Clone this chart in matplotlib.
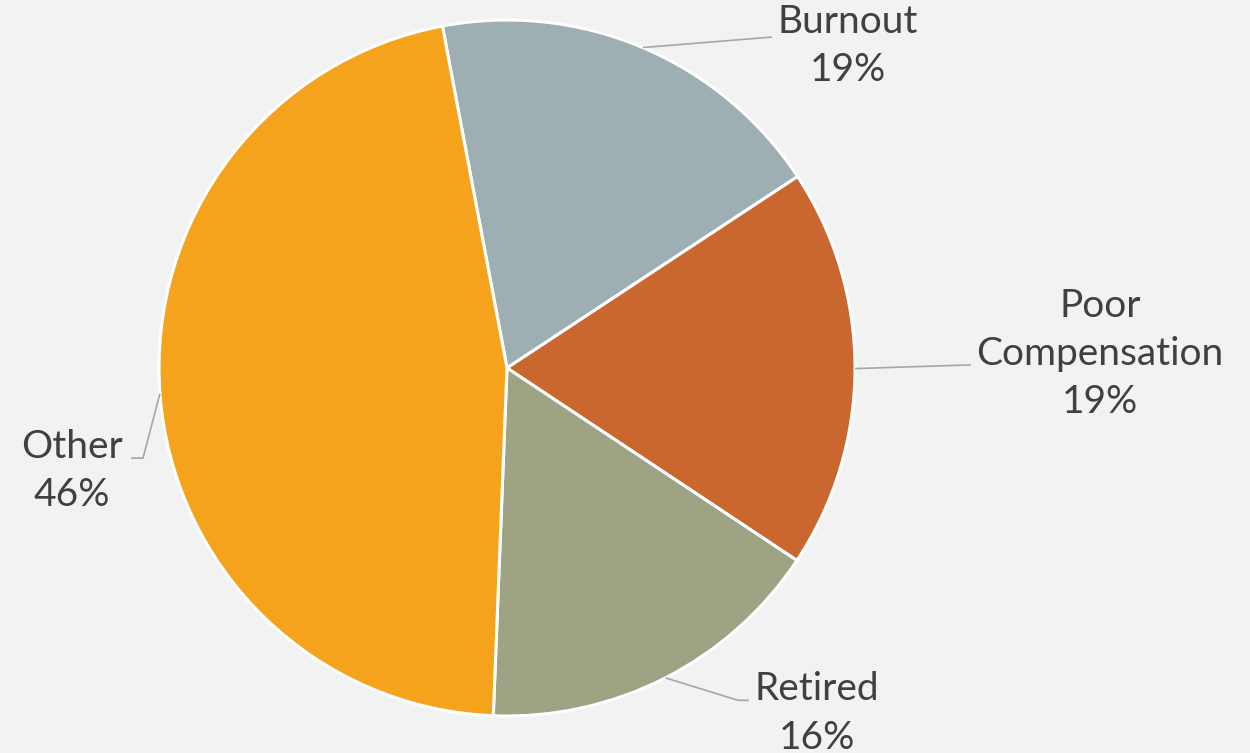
import numpy as np
import matplotlib
matplotlib.use("Agg")
import matplotlib.pyplot as plt

# Data
categories = ["Burnout", "Poor\nCompensation", "Retired", "Other"]
values = [18.7, 18.6, 16.3, 46.4]
colors = ["#9eafb4", "#c9672f", "#9ea383", "#f5a31d"]

# Layout (label block centres in axes data units, pie radius = 1)
label_pos = [(0.980, 0.925), (1.704, 0.040), (0.891, -0.993), (-1.250, -0.295)]
# leader line elbow points (data units)
elbow_pts = [[(0.761, 0.951)], [(1.333, 0.009)], [(0.664, -0.955), (0.695, -0.955)],
             [(-1.046, -0.259), (-1.080, -0.259)]]

W, H, DPI = 12.5, 7.53, 100
cx_px, cy_px, r_px = 507, 368, 348
bg = "#f2f2f2"

fig = plt.figure(figsize=(W, H), dpi=DPI, facecolor=bg)
ax = fig.add_axes([0, 0, 1, 1])
ax.set_facecolor(bg)

start = 100.7
wedges, _ = ax.pie(values, colors=colors, startangle=start, counterclock=False,
                   radius=1.0, center=(0, 0),
                   wedgeprops=dict(edgecolor="white", linewidth=2.2))
ax.set_aspect("equal", adjustable="box")
ax.set_xlim(-cx_px / r_px, (W * DPI - cx_px) / r_px)
ax.set_ylim(-(H * DPI - cy_px) / r_px, cy_px / r_px)
ax.axis("off")

total = sum(values)
for i, w in enumerate(wedges):
    mid = np.deg2rad((w.theta1 + w.theta2) / 2)
    x0, y0 = np.cos(mid), np.sin(mid)
    pts = [(x0, y0)] + elbow_pts[i]
    xs, ys = zip(*pts)
    ax.plot(xs, ys, color="#a6a6a6", lw=1.2, solid_capstyle="butt", zorder=1)
    pct = round(values[i] / total * 100)
    ax.text(label_pos[i][0], label_pos[i][1], f"{categories[i]}\n{pct}%",
            ha="center", va="center", fontsize=28, family="Lato",
            color="#404040", linespacing=1.42)

fig.savefig("out.png", dpi=DPI, facecolor=bg)
